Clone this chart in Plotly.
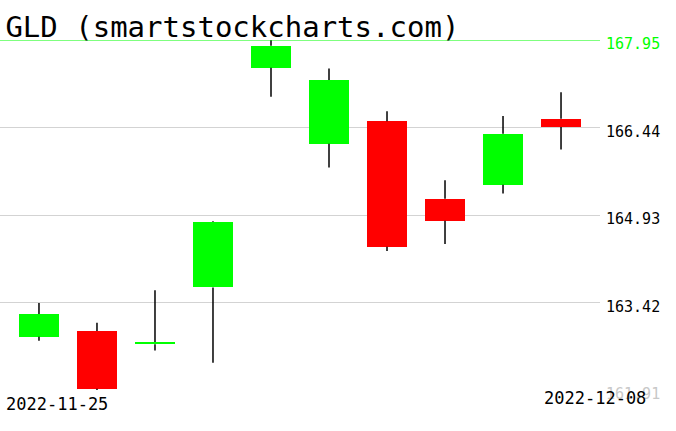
import plotly.graph_objects as go
import numpy as np

# daily OHLC
dates = ["2022-11-25", "2022-11-28", "2022-11-29", "2022-11-30", "2022-12-01",
         "2022-12-02", "2022-12-05", "2022-12-06", "2022-12-07", "2022-12-08"]
opens = [162.83, 162.93, 162.70, 163.68, 167.47, 166.16, 166.55, 165.21, 165.45, 166.59]
highs = [163.41, 163.07, 163.63, 164.82, 167.95, 167.46, 166.72, 165.53, 166.64, 167.05]
lows = [162.76, 161.91, 162.59, 162.38, 166.97, 165.75, 164.31, 164.43, 165.30, 166.06]
closes = [163.22, 161.93, 162.74, 164.81, 167.85, 167.26, 164.38, 164.83, 166.33, 166.45]

UP = "#00ff00"
DOWN = "#ff0000"
MONO = "DejaVu Sans Mono"

idx = np.arange(len(dates))
o = np.array(opens)
c = np.array(closes)
body_lo = np.minimum(o, c)
body_hi = np.maximum(o, c)
colors = [UP if cc >= oo else DOWN for oo, cc in zip(opens, closes)]

# wicks: low -> body bottom, body top -> high
wx, wy = [], []
for i in idx:
    wx += [i, i, None, i, i, None]
    wy += [lows[i], body_lo[i], None, body_hi[i], highs[i], None]

ymin, ymax = min(lows), max(highs)
tickvals = np.linspace(ymin, ymax, 5)
tick_colors = ["#c8c8c8", "black", "black", "black", UP]
ticktext = [f"<span style='color:{col}'>{v:.2f}</span>" for v, col in zip(tickvals, tick_colors)]

fig = go.Figure()

fig.add_trace(go.Scatter(
    x=wx, y=wy, mode="lines",
    line=dict(color="black", width=1.5),
    hoverinfo="skip", showlegend=False
))

fig.add_trace(go.Bar(
    x=idx, y=body_hi - body_lo, base=body_lo,
    width=0.69,
    marker=dict(color=colors, line=dict(width=0)),
    showlegend=False
))

# green line at the top of the range
fig.add_shape(type="line", xref="paper", x0=0, x1=1, yref="y", y0=ymax, y1=ymax,
              line=dict(color=UP, width=1))

fig.add_annotation(text=dates[0], xref="paper", yref="paper", x=0, y=0,
                   xanchor="left", yanchor="top", xshift=4, yshift=-2,
                   showarrow=False, font=dict(family=MONO, size=17, color="black"))
fig.add_annotation(text=dates[-1], xref="paper", yref="paper", x=1, y=0,
                   xanchor="right", yanchor="top", xshift=48, yshift=4,
                   showarrow=False, font=dict(family=MONO, size=17, color="black"))

fig.update_layout(
    width=676, height=431,
    margin=dict(l=0, r=76, t=40, b=41),
    paper_bgcolor="white",
    plot_bgcolor="white",
    title=dict(text="GLD (smartstockcharts.com)", x=0.009, xref="paper", xanchor="left",
               y=0.938, yanchor="middle", yref="container",
               font=dict(family=MONO, size=29, color="black")),
    xaxis=dict(range=[-0.672, 9.672], showticklabels=False, showgrid=False,
               zeroline=False, fixedrange=True),
    yaxis=dict(range=[ymin, ymax], side="right", tickvals=tickvals, ticktext=ticktext,
               showgrid=True, gridcolor="#d3d3d3", gridwidth=1, zeroline=False,
               ticklabelstandoff=5, ticklabelshift=4,
               tickfont=dict(family=MONO, size=15, color="black")),
    bargap=0,
)

fig.write_html("out.html", config={"displayModeBar": False},
               post_script="document.body.style.margin='0';")
